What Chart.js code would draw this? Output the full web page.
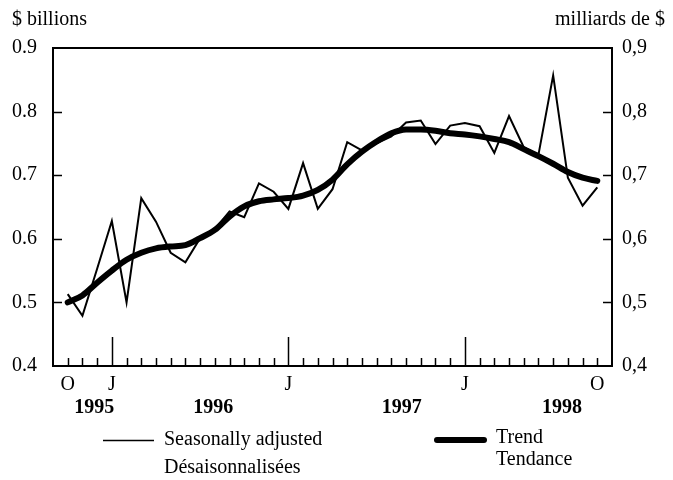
<!DOCTYPE html>
<html>
<head>
<meta charset="utf-8">
<script src="https://cdn.jsdelivr.net/npm/chart.js@4.4.0/dist/chart.umd.min.js"></script>
<style>
  html, body { margin: 0; padding: 0; background: #fff; }
  #wrap { width: 673px; height: 480px; position: relative; }
</style>
</head>
<body>
<div id="wrap"><canvas id="chart"></canvas></div>
<script>
// Mois : octobre 1995 a octobre 1998
const months = ["O","N","D","J","F","M","A","M","J","J","A","S","O","N","D",
  "J","F","M","A","M","J","J","A","S","O","N","D",
  "J","F","M","A","M","J","J","A","S","O"];

// Desaisonnalisees ($ milliards)
const seasonal = [0.513, 0.479, 0.553, 0.628, 0.500, 0.664, 0.627, 0.578, 0.563, 0.601,
  0.615, 0.643, 0.634, 0.687, 0.674, 0.647, 0.719, 0.647, 0.678, 0.752,
  0.739, 0.750, 0.761, 0.783, 0.786, 0.749, 0.778, 0.782, 0.777, 0.735,
  0.793, 0.744, 0.732, 0.857, 0.696, 0.652, 0.681];

// Tendance
const trend = [0.500, 0.511, 0.531, 0.550, 0.567, 0.578, 0.585, 0.588, 0.590, 0.601,
  0.614, 0.635, 0.651, 0.659, 0.662, 0.664, 0.668, 0.677, 0.693, 0.717,
  0.737, 0.753, 0.766, 0.772, 0.772, 0.770, 0.766, 0.764, 0.761, 0.757,
  0.752, 0.741, 0.730, 0.718, 0.705, 0.696, 0.691];

// Etiquettes de l'axe X
const xTickIndex = [0, 3, 15, 27, 36];
const xTickLabels = ["O", "J", "J", "J", "O"];
const yearLabels = ["1995", "1996", "1997", "1998"];
const yearIndex = [1.8, 9.9, 22.7, 33.6];

// Axe Y
const yTicks = [0.4, 0.5, 0.6, 0.7, 0.8, 0.9];

const FONT = "'Liberation Serif', 'Times New Roman', serif";

const toPoints = (arr) => arr.map((v, i) => ({ x: i, y: v }));

// Cadre, graduations et legende
const frameAndText = {
  id: "frameAndText",
  afterDraw(chart) {
    const { ctx, chartArea: a, scales } = chart;
    const xs = scales.x, ys = scales.y;
    ctx.save();
    ctx.strokeStyle = "#000";
    ctx.fillStyle = "#000";

    // cadre
    ctx.lineWidth = 2;
    ctx.strokeRect(a.left, a.top, a.right - a.left, a.bottom - a.top);

    // graduations mensuelles (vers l'interieur)
    ctx.lineWidth = 1.5;
    months.forEach((m, i) => {
      const x = Math.round(xs.getPixelForValue(i)) + 0.5;
      const len = m === "J" && (i === 3 || i === 15 || i === 27) ? 29 : 8;
      ctx.beginPath();
      ctx.moveTo(x, a.bottom);
      ctx.lineTo(x, a.bottom - len);
      ctx.stroke();
    });

    // graduations Y des deux cotes
    yTicks.slice(1, -1).forEach((v) => {
      const y = Math.round(ys.getPixelForValue(v)) + 0.5;
      ctx.beginPath();
      ctx.moveTo(a.left, y);
      ctx.lineTo(a.left + 9, y);
      ctx.moveTo(a.right, y);
      ctx.lineTo(a.right - 9, y);
      ctx.stroke();
    });

    // etiquettes X
    ctx.font = "20px " + FONT;
    ctx.textAlign = "center";
    ctx.textBaseline = "middle";
    xTickIndex.forEach((idx, k) => {
      ctx.fillText(xTickLabels[k], xs.getPixelForValue(idx), a.bottom + 19);
    });
    ctx.font = "bold 20px " + FONT;
    yearLabels.forEach((t, k) => {
      ctx.fillText(t, xs.getPixelForValue(yearIndex[k]), a.bottom + 42);
    });

    // titres des axes
    ctx.font = "20px " + FONT;
    ctx.textAlign = "left";
    ctx.fillText("$ billions", 12, 20);
    ctx.textAlign = "right";
    ctx.fillText("milliards de $", 665, 20);

    // legende
    ctx.textAlign = "left";
    ctx.lineWidth = 1.5;
    ctx.beginPath();
    ctx.moveTo(103, 440.5);
    ctx.lineTo(154, 440.5);
    ctx.stroke();
    ctx.fillText("Seasonally adjusted", 164, 440);
    ctx.fillText("Désaisonnalisées", 164, 468);

    ctx.lineWidth = 6;
    ctx.lineCap = "round";
    ctx.beginPath();
    ctx.moveTo(437, 440);
    ctx.lineTo(484, 440);
    ctx.stroke();
    ctx.fillText("Trend", 496, 438);
    ctx.fillText("Tendance", 496, 460);
    ctx.restore();
  },
};

new Chart(document.getElementById("chart"), {
  type: "line",
  data: {
    datasets: [
      {
        label: "Seasonally adjusted",
        data: toPoints(seasonal),
        borderColor: "#000",
        borderWidth: 2,
        pointRadius: 0,
        tension: 0,
        yAxisID: "y",
      },
      {
        label: "Trend",
        data: toPoints(trend),
        borderColor: "#000",
        borderWidth: 6,
        pointRadius: 0,
        tension: 0.4,
        cubicInterpolationMode: "monotone",
        borderCapStyle: "round",
        yAxisID: "y",
      },
    ],
  },
  options: {
    responsive: true,
    maintainAspectRatio: false,
    animation: false,
    layout: { padding: { top: 48, bottom: 114, left: 0, right: 0 } },
    plugins: { legend: { display: false }, tooltip: { enabled: false } },
    scales: {
      x: {
        type: "linear",
        min: -1,
        max: 37,
        display: false,
      },
      y: {
        position: "left",
        min: 0.4,
        max: 0.9,
        afterFit: (s) => { s.width = 53; },
        afterBuildTicks: (s) => { s.ticks = yTicks.map((v) => ({ value: v })); },
        grid: { display: false, drawTicks: false },
        border: { display: false },
        ticks: {
          padding: 16,
          color: "#000",
          font: { family: FONT, size: 20 },
          callback: (v) => v.toFixed(1),
        },
      },
      y2: {
        position: "right",
        min: 0.4,
        max: 0.9,
        afterFit: (s) => { s.width = 61; },
        afterBuildTicks: (s) => { s.ticks = yTicks.map((v) => ({ value: v })); },
        grid: { display: false, drawTicks: false },
        border: { display: false },
        ticks: {
          padding: 10,
          color: "#000",
          font: { family: FONT, size: 20 },
          callback: (v) => v.toFixed(1).replace(".", ","),
        },
      },
    },
  },
  plugins: [frameAndText],
});
</script>
</body>
</html>
